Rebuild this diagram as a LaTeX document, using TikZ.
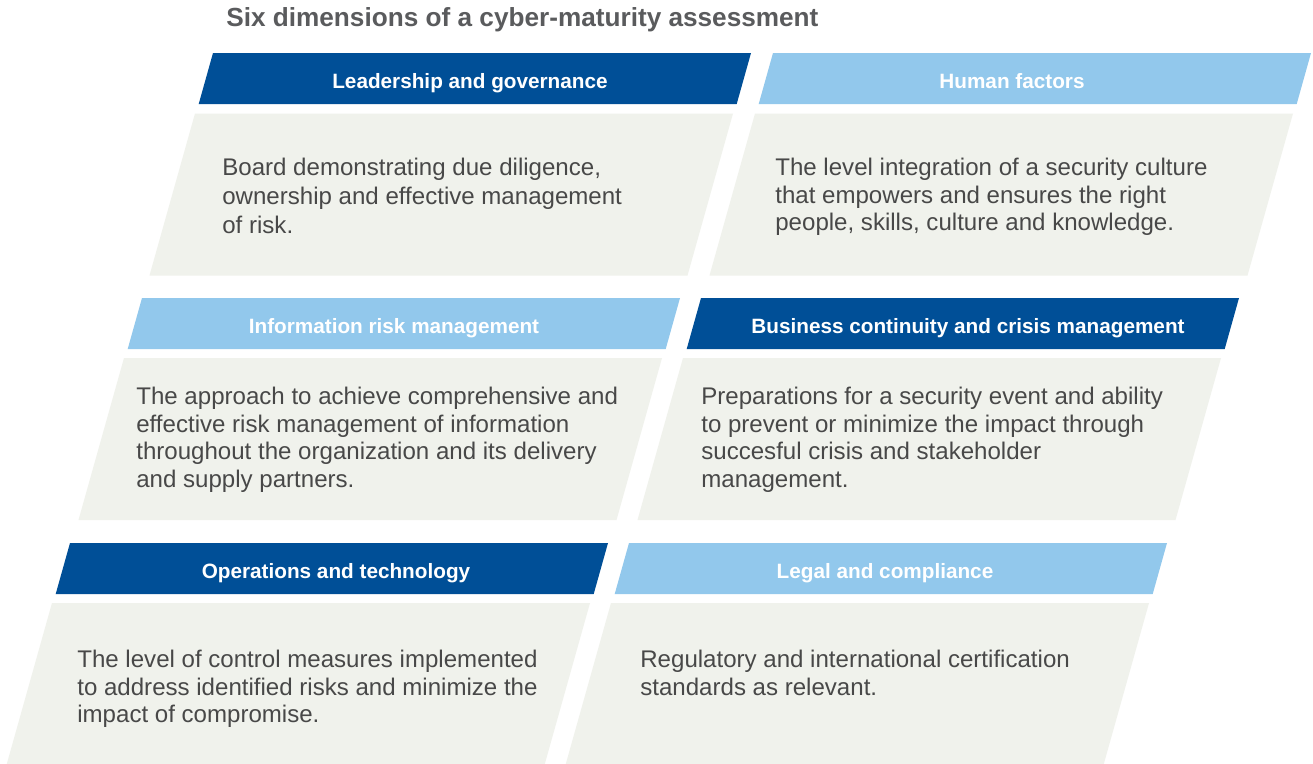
\documentclass[tikz,border=0pt]{standalone}
\usepackage{fontspec}
\setmainfont{Liberation Sans}
\usepackage{xcolor}
\definecolor{kdark}{HTML}{004F97}
\definecolor{klight}{HTML}{92C8EC}
\definecolor{kpanel}{HTML}{F0F2EC}
\definecolor{ktext}{HTML}{484848}
\definecolor{ktitle}{HTML}{5A5B5D}

\begin{document}
\begin{tikzpicture}[
        x=0.02cm, y=-0.02cm,
        heading/.style={font=\bfseries\fontsize{14.9}{18}\selectfont, text=ktitle, anchor=base west, inner sep=0pt},
        headtext/.style={font=\bfseries\fontsize{11.8}{14}\selectfont, text=white, anchor=base, inner sep=0pt},
        bodytext/.style={font=\fontsize{13.7}{15.6}\selectfont, text=ktext, align=left, anchor=north west, inner sep=0pt}
    ]
        \clip (0,0) rectangle (1313,764);
        \fill[white] (0,0) rectangle (1313,764);

        % Title
        \node[heading] (title) at (226,27) {Six dimensions of a cyber-maturity assessment};

        % Header bars
        \foreach \x/\y/\c in {213/53/kdark, 773/53/klight, 142/298/klight, 701/298/kdark, 70/543/kdark, 629/543/klight} {
            \fill[\c] (\x,\y) -- ++(538,0) -- ++(-14.3,51) -- ++(-538,0) -- cycle;
        }

        % Panels
        \foreach \x/\y in {195/113.5, 755/113.5, 124/358, 683/358, 52/603, 611/603} {
            \fill[kpanel] (\x,\y) -- ++(538,0) -- ++(-45.5,162) -- ++(-538,0) -- cycle;
        }

        % Header labels
        \foreach \n/\x/\y/\w in {lg/470/88/Leadership and governance, hf/1012/88/Human factors,
                irm/394/333/Information risk management, bc/968/333/Business continuity and crisis management,
                ot/336/578/Operations and technology, lc/885/578/Legal and compliance} {
            \node[headtext] (\n-head) at (\x,\y) {\w};
        }

        % Descriptions
        \node[bodytext, font=\fontsize{13.7}{16.5}\selectfont] (lg-text) at (222,158) {Board demonstrating due diligence,\\ownership and effective management\\of risk.};
        \node[bodytext] (hf-text) at (775,158) {The level integration of a security culture\\that empowers and ensures the right\\people, skills, culture and knowledge.};
        \node[bodytext] (irm-text) at (136,387) {The approach to achieve comprehensive and\\effective risk management of information\\throughout the organization and its delivery\\and supply partners.};
        \node[bodytext] (bc-text) at (701,387) {Preparations for a security event and ability\\to prevent or minimize the impact through\\succesful crisis and stakeholder\\management.};
        \node[bodytext] (ot-text) at (77,650) {The level of control measures implemented\\to address identified risks and minimize the\\impact of compromise.};
        \node[bodytext] (lc-text) at (640,650) {Regulatory and international certification\\standards as relevant.};
    \end{tikzpicture}
\end{document}
